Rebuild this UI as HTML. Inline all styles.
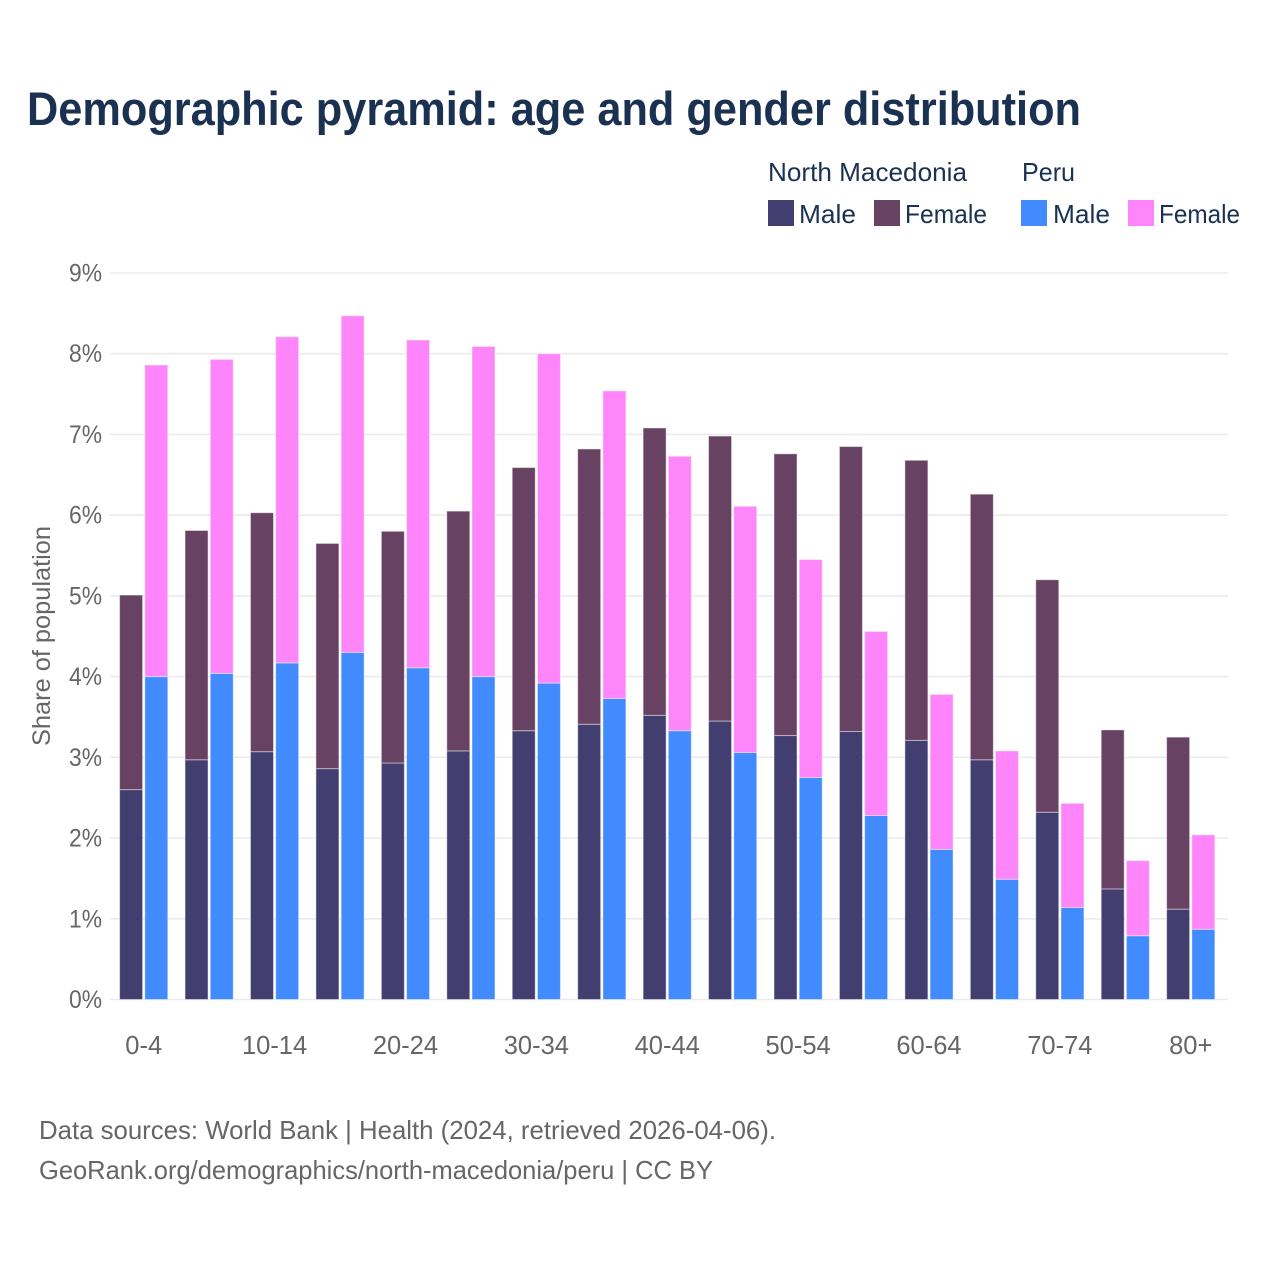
<!DOCTYPE html>
<html lang="en">
<head>
<meta charset="utf-8">
<title>Demographic pyramid: age and gender distribution</title>
<style>
  html, body { margin: 0; padding: 0; background: #fff; }
  svg { display: block; font-family: "Liberation Sans", sans-serif; }
</style>
</head>
<body>
<svg id="chart" xmlns="http://www.w3.org/2000/svg" width="1280" height="1280" viewBox="0 0 1280 1280">
  <rect x="0" y="0" width="1280" height="1280" fill="#ffffff"/>
  <text x="27" y="125" font-size="47" font-weight="700" fill="#1a3152" textLength="1054" lengthAdjust="spacingAndGlyphs">Demographic pyramid: age and gender distribution</text>

  <g font-size="26" fill="#1a3152">
    <text x="768" y="181" textLength="199" lengthAdjust="spacingAndGlyphs">North Macedonia</text>
    <text x="1022" y="181" textLength="53" lengthAdjust="spacingAndGlyphs">Peru</text>
    <rect x="768" y="200" width="26" height="26" fill="#423f70"/>
    <text x="799" y="223" textLength="57" lengthAdjust="spacingAndGlyphs">Male</text>
    <rect x="874" y="200" width="26" height="26" fill="#684262"/>
    <text x="905" y="223" textLength="82" lengthAdjust="spacingAndGlyphs">Female</text>
    <rect x="1021" y="200" width="26" height="26" fill="#418bff"/>
    <text x="1053" y="223" textLength="57" lengthAdjust="spacingAndGlyphs">Male</text>
    <rect x="1128" y="200" width="26" height="26" fill="#ff85fa"/>
    <text x="1159" y="223" textLength="81" lengthAdjust="spacingAndGlyphs">Female</text>
  </g>

  <g id="grid"></g>
  <g id="yticks"></g>
  <g id="bars"></g>
  <g id="xticks"></g>

  <text transform="translate(50,636) rotate(-90)" text-anchor="middle" font-size="25" fill="#666666" textLength="220" lengthAdjust="spacingAndGlyphs">Share of population</text>

  <g font-size="26" fill="#666666">
    <text x="39" y="1139" textLength="737" lengthAdjust="spacingAndGlyphs">Data sources: World Bank | Health (2024, retrieved 2026-04-06).</text>
    <text x="39" y="1179" textLength="674" lengthAdjust="spacingAndGlyphs">GeoRank.org/demographics/north-macedonia/peru | CC BY</text>
  </g>
</svg>
<script>
const categories = ["0-4","5-9","10-14","15-19","20-24","25-29","30-34","35-39","40-44","45-49","50-54","55-59","60-64","65-69","70-74","75-79","80+"];
const xTickLabels = ["0-4","10-14","20-24","30-34","40-44","50-54","60-64","70-74","80+"];
const yTickValues = [0,1,2,3,4,5,6,7,8,9];
const nmMale = [2.60,2.97,3.07,2.86,2.93,3.08,3.33,3.41,3.52,3.45,3.27,3.32,3.21,2.97,2.32,1.37,1.12];
const nmFemale = [2.41,2.84,2.96,2.79,2.87,2.97,3.26,3.41,3.56,3.53,3.49,3.53,3.47,3.29,2.88,1.97,2.13];
const peruMale = [4.00,4.04,4.17,4.30,4.11,4.00,3.92,3.73,3.33,3.06,2.75,2.28,1.86,1.49,1.14,0.79,0.87];
const peruFemale = [3.86,3.89,4.04,4.17,4.06,4.09,4.08,3.81,3.40,3.05,2.70,2.28,1.92,1.59,1.29,0.93,1.17];

const NS = "http://www.w3.org/2000/svg";
const plotLeft = 110, plotRight = 1228, plotBottom = 999.5, plotTop = 273;
const yMax = 9;
const bandStart = 110.4, bandStep = 65.44, barWidth = 23, barGap = 2.2, groupPad = 9.2;

function yScale(v) {
  return plotBottom - (v / yMax) * (plotBottom - plotTop);
}
function groupCenter(i) {
  return bandStart + groupPad + barWidth + barGap / 2 + i * bandStep;
}
function make(tag, attrs, parent) {
  const el = document.createElementNS(NS, tag);
  for (const k in attrs) el.setAttribute(k, attrs[k]);
  parent.appendChild(el);
  return el;
}

const gridG = document.getElementById("grid");
const yTicksG = document.getElementById("yticks");
yTickValues.forEach(function (v) {
  const line = make("line", { x1: plotLeft, x2: plotRight, y1: yScale(v), y2: yScale(v), stroke: "#ebebeb", "stroke-width": 1.6 }, gridG);
  
  
  const label = make("text", { x: 102, y: yScale(v) + 8.5, "text-anchor": "end", "font-size": 25, fill: "#666666", textLength: 33, lengthAdjust: "spacingAndGlyphs" }, yTicksG);
  
  
  label.textContent = v + "%";
});

const barsG = document.getElementById("bars");
function drawBar(x, base, value, fill, name) {
  const top = yScale(base + value);
  const bottom = yScale(base);
  const bar = make("rect", { x: x, y: top, width: barWidth, height: bottom - top, fill: fill, stroke: "#ffffff", "stroke-opacity": 0.45, "stroke-width": 1 }, barsG);
  
  
}
categories.forEach(function (cat, i) {
  const c = groupCenter(i);
  const xNm = c - barGap / 2 - barWidth;
  const xPeru = c + barGap / 2;
  drawBar(xNm, 0, nmMale[i], "#423f70", "bar-north-macedonia-male");
  drawBar(xNm, nmMale[i], nmFemale[i], "#684262", "bar-north-macedonia-female");
  drawBar(xPeru, 0, peruMale[i], "#418bff", "bar-peru-male");
  drawBar(xPeru, peruMale[i], peruFemale[i], "#ff85fa", "bar-peru-female");
});

const xTicksG = document.getElementById("xticks");
categories.forEach(function (cat, i) {
  if (xTickLabels.indexOf(cat) < 0) return;
  const t = make("text", { x: groupCenter(i), y: 1054, "text-anchor": "middle", "font-size": 25.5, fill: "#666666" }, xTicksG);
  
  
  t.textContent = cat;
});
</script>
</body>
</html>
